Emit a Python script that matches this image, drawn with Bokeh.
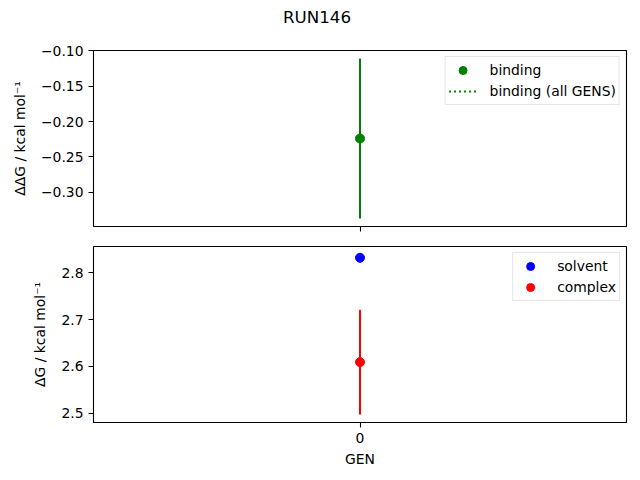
from bokeh.plotting import figure
from bokeh.layouts import column
from bokeh.models import (ColumnDataSource, Range1d, FixedTicker, CustomJSTickFormatter,
                          Legend, LegendItem, Div)
from bokeh.embed import file_html
from bokeh.resources import INLINE

# ---- data ----
title_text = "RUN146"
gens = [0]
binding = [-0.224]
binding_err = [0.113]
binding_all_gens = [-0.224]
solvent = [2.832]
solvent_err = [0.007]
complex_vals = [2.609]
complex_err = [0.112]
top_ticks = [-0.30, -0.25, -0.20, -0.15, -0.10]
bottom_ticks = [2.5, 2.6, 2.7, 2.8]
x_ticks = [0]
x_tick_labels = {0: "0"}

FONT = "DejaVu Sans"
FS = "13.9px"
W = 634


def pad_range(lows, highs, frac=0.05):
    lo, hi = min(lows), max(highs)
    m = (hi - lo) * frac
    return Range1d(lo - m, hi + m)


def style(p):
    p.xgrid.grid_line_color = None
    p.ygrid.grid_line_color = None
    p.outline_line_color = "black"
    p.outline_line_width = 1.1
    p.background_fill_color = "white"
    p.border_fill_color = "white"
    for ax in list(p.xaxis) + list(p.yaxis):
        ax.axis_line_color = None
        ax.minor_tick_line_color = None
        ax.major_tick_out = 5
        ax.major_tick_in = 0
        ax.major_tick_line_color = "black"
        ax.major_tick_line_width = 1.1
        ax.major_label_text_font = FONT
        ax.major_label_text_font_size = FS
        ax.major_label_text_color = "black"
        ax.axis_label_text_font = FONT
        ax.axis_label_text_font_size = FS
        ax.axis_label_text_font_style = "normal"
        ax.axis_label_text_color = "black"
    for ax in p.yaxis:
        ax.axis_label_standoff = 10


def style_legend(leg):
    leg.label_text_font = FONT
    leg.label_text_font_size = FS
    leg.label_text_color = "black"
    leg.border_line_color = "#cccccc"
    leg.border_line_width = 1
    leg.background_fill_alpha = 0.8
    leg.glyph_width = 28
    leg.glyph_height = 20
    leg.label_height = 20
    leg.spacing = 1
    leg.padding = 3
    leg.margin = 6
    leg.label_standoff = 13


minus_fmt2 = CustomJSTickFormatter(code="return tick.toFixed(2).replace('-', '\u2212');")
fmt1 = CustomJSTickFormatter(code="return tick.toFixed(1).replace('-', '\u2212');")
blank_fmt = CustomJSTickFormatter(code="return '';")

x_range = Range1d(-0.055, 0.055)

# ---- title ----
title = Div(text=title_text, width=W, height=38, margin=0,
            styles={"text-align": "center", "font-family": FONT, "font-size": "16.7px",
                    "line-height": "34px", "color": "black", "width": f"{W}px"})

# ---- top: binding ----
src_b = ColumnDataSource(dict(x=gens, y=binding,
                              lo=[v - e for v, e in zip(binding, binding_err)],
                              hi=[v + e for v, e in zip(binding, binding_err)]))
top = figure(width=W, height=198, x_range=x_range,
             y_range=pad_range(src_b.data["lo"], src_b.data["hi"]),
             output_backend="svg", toolbar_location=None,
             min_border_left=93, min_border_right=8, min_border_top=12, min_border_bottom=10)
top.segment(x0="x", y0="lo", x1="x", y1="hi", source=src_b, line_color="green", line_width=2)
r_bind = top.scatter(x="x", y="y", source=src_b, size=9, color="green")
r_all = top.line(x=gens, y=binding_all_gens, line_color="green", line_width=2, line_dash="2 3")
top.yaxis.axis_label = "\u0394\u0394G / kcal mol\u207b\u00b9"
top.yaxis.ticker = FixedTicker(ticks=top_ticks)
top.yaxis.formatter = minus_fmt2
top.xaxis.ticker = FixedTicker(ticks=x_ticks)
top.xaxis.formatter = blank_fmt
style(top)
top.xaxis.major_label_standoff = 0
leg_top = Legend(items=[LegendItem(label="binding", renderers=[r_bind]),
                        LegendItem(label="binding (all GENS)", renderers=[r_all])],
                 location="top_right")
style_legend(leg_top)
top.add_layout(leg_top)

# ---- bottom: solvent / complex ----
src_s = ColumnDataSource(dict(x=gens, y=solvent,
                              lo=[v - e for v, e in zip(solvent, solvent_err)],
                              hi=[v + e for v, e in zip(solvent, solvent_err)]))
src_c = ColumnDataSource(dict(x=gens, y=complex_vals,
                              lo=[v - e for v, e in zip(complex_vals, complex_err)],
                              hi=[v + e for v, e in zip(complex_vals, complex_err)]))
bot = figure(width=W, height=236, x_range=x_range,
             y_range=pad_range(src_s.data["lo"] + src_c.data["lo"],
                               src_s.data["hi"] + src_c.data["hi"]),
             output_backend="svg", toolbar_location=None,
             min_border_left=93, min_border_right=8, min_border_top=10, min_border_bottom=50)
bot.segment(x0="x", y0="lo", x1="x", y1="hi", source=src_s, line_color="blue", line_width=2)
r_s = bot.scatter(x="x", y="y", source=src_s, size=9, color="blue")
bot.segment(x0="x", y0="lo", x1="x", y1="hi", source=src_c, line_color="red", line_width=2)
r_c = bot.scatter(x="x", y="y", source=src_c, size=9, color="red")
bot.yaxis.axis_label = "\u0394G / kcal mol\u207b\u00b9"
bot.yaxis.ticker = FixedTicker(ticks=bottom_ticks)
bot.yaxis.formatter = fmt1
bot.xaxis.ticker = FixedTicker(ticks=x_ticks)
bot.xaxis.major_label_overrides = x_tick_labels
bot.xaxis.axis_label = "GEN"
style(bot)
leg_bot = Legend(items=[LegendItem(label="solvent", renderers=[r_s]),
                        LegendItem(label="complex", renderers=[r_c])],
                 location="top_right")
style_legend(leg_bot)
bot.add_layout(leg_bot)

layout = column(title, top, bot, spacing=0)
open("out.html", "w").write(file_html(layout, INLINE))
